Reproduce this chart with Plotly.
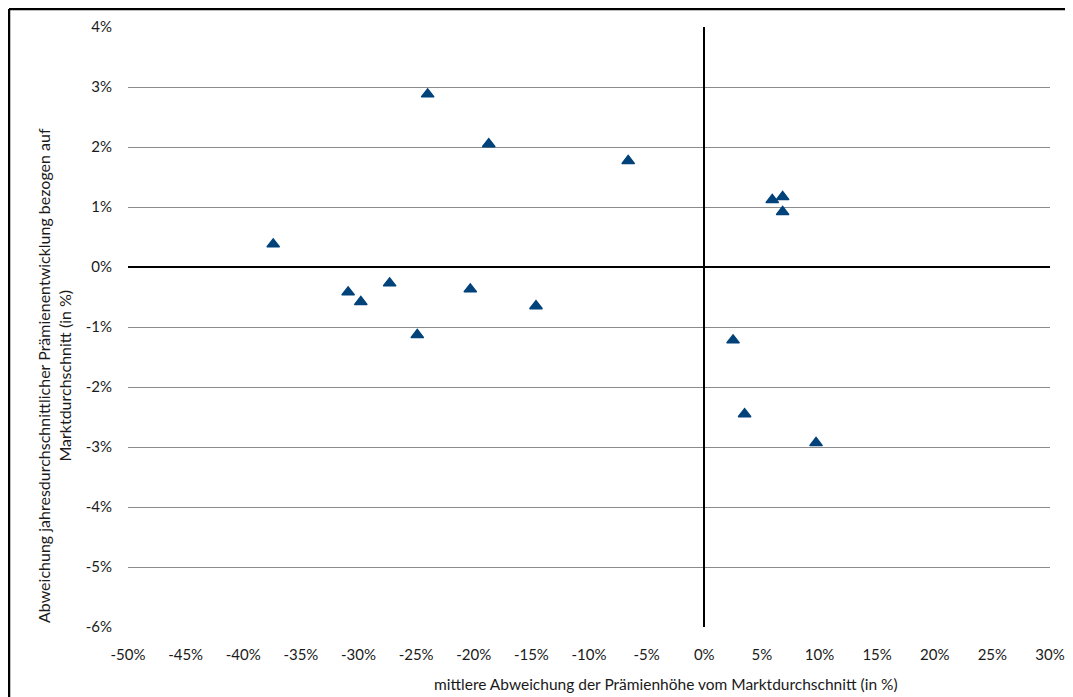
import plotly.graph_objects as go

# Data (values in %)
praemien_abweichung = [-37.4, -30.9, -29.8, -27.3, -24.0, -18.7, -6.6, 5.9, 6.8, 6.8,
                       -20.3, -14.6, -24.9, 2.5, 3.5, 9.7]
entwicklung_abweichung = [0.38, -0.42, -0.58, -0.27, 2.88, 2.05, 1.77, 1.12, 1.17, 0.92,
                          -0.37, -0.65, -1.13, -1.22, -2.45, -2.93]

x_ticks = list(range(-50, 31, 5))
x_ticktext = [f"{v}%" for v in x_ticks]
y_ticks = list(range(-6, 5, 1))
y_ticktext = [f"{v}%" for v in y_ticks]

x_title = "mittlere Abweichung der Prämienhöhe vom Marktdurchschnitt (in %)"
y_title = "Abweichung jahresdurchschnittlicher Prämienentwicklung bezogen auf<br>Marktdurchschnitt (in %)"

FONT = "Lato"
TXT = "#1a1a1a"
OFF = 8  # default body margin of the page
W, H = 1073 - OFF, 697 - OFF
pw, ph = 922, 600
L, T = 128 - OFF, 27 - OFF
R = W - L - pw
B = H - T - ph


def px_x(page_x):
    return (page_x - OFF - L) / pw


def px_y(page_y):
    return (T + ph - (page_y - OFF)) / ph


fig = go.Figure()
fig.add_trace(go.Scatter(
    x=praemien_abweichung, y=entwicklung_abweichung, mode="markers",
    marker=dict(symbol="triangle-up", size=11, color="#00427a",
                line=dict(color="#00427a", width=1.3)),
    showlegend=False, hoverinfo="x+y",
))

fig.update_layout(
    width=W, height=H,
    margin=dict(l=L, r=R, t=T, b=B, pad=0, autoexpand=False),
    paper_bgcolor="white", plot_bgcolor="white",
    font=dict(family=FONT, size=15, color=TXT),
    xaxis=dict(
        range=[-50, 30], tickvals=x_ticks, ticktext=x_ticktext,
        showgrid=False, zeroline=True, zerolinecolor="black", zerolinewidth=2,
        showline=False, ticks="", ticklabelstandoff=17, automargin=False,
        tickfont=dict(family=FONT, size=15, color=TXT),
    ),
    yaxis=dict(
        range=[-6, 4], tickvals=y_ticks, ticktext=y_ticktext,
        showgrid=True, gridcolor="#8c8c8c", gridwidth=1,
        zeroline=True, zerolinecolor="black", zerolinewidth=2,
        showline=False, ticks="", ticklabelstandoff=15, automargin=False,
        tickfont=dict(family=FONT, size=15, color=TXT),
    ),
    annotations=[
        dict(text=x_title, xref="paper", yref="paper",
             x=px_x(666), y=px_y(684),
             xanchor="center", yanchor="middle", showarrow=False,
             font=dict(family=FONT, size=15.5, color=TXT)),
        dict(text=y_title, xref="paper", yref="paper",
             x=px_x(54), y=px_y(376), textangle=-90,
             xanchor="center", yanchor="middle", showarrow=False,
             font=dict(family=FONT, size=16, color=TXT)),
    ],
    shapes=[
        dict(type="line", xref="paper", yref="paper",
             x0=px_x(9), x1=px_x(9), y0=px_y(9), y1=px_y(720),
             line=dict(color="black", width=2.5), layer="above"),
        dict(type="line", xref="paper", yref="paper",
             x0=px_x(9), x1=px_x(1090), y0=px_y(9), y1=px_y(9),
             line=dict(color="black", width=2.5), layer="above"),
    ],
)

fig.write_html("out.html")
